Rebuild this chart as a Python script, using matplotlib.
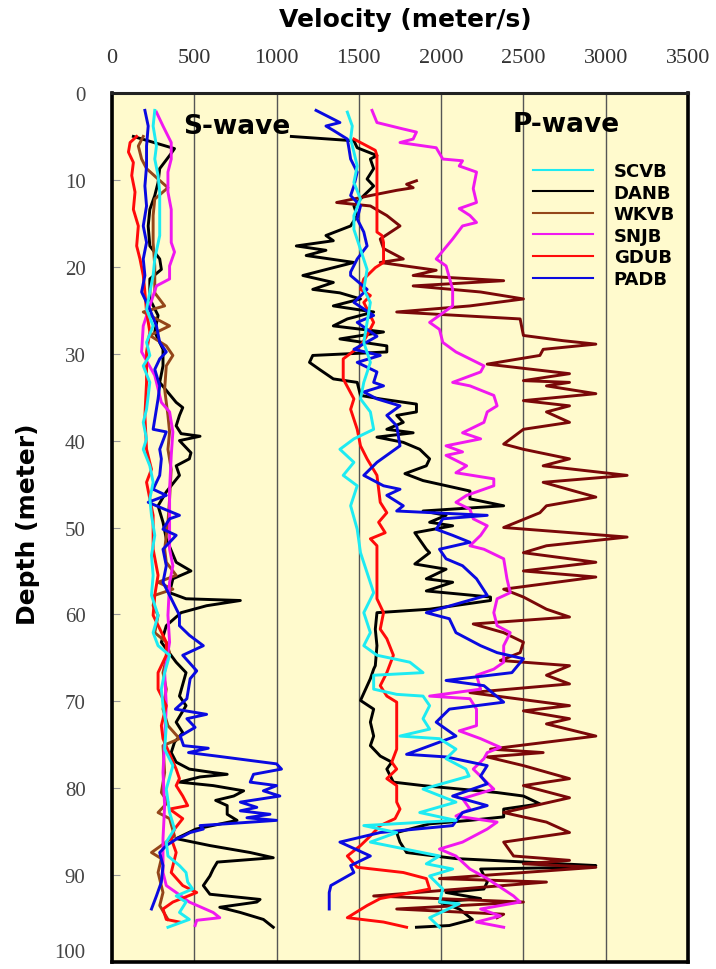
import numpy as np
import matplotlib
matplotlib.use('Agg')
from matplotlib import pyplot as plt

# well names (legend order)
wells = ['SCVB', 'DANB', 'WKVB', 'SNJB', 'GDUB', 'PADB']

# S-wave profiles: (depth m, velocity m/s)
scvb_s = [(2.0, 260), (3.8, 250), (6.1, 270), (7.6, 260), (9.5, 280), (11.4, 290), (14.1, 290), (16.4, 290),
          (19.1, 260), (21.0, 250), (22.9, 230), (24.9, 210), (26.8, 250), (28.7, 210), (30.2, 230), (31.4, 190),
          (33.3, 230), (36.4, 210), (37.9, 190), (39.8, 210), (41.0, 190), (42.9, 230), (44.8, 250), (46.7, 230),
          (48.6, 240), (50.9, 260), (53.2, 240), (55.5, 250), (57.8, 240), (60.1, 280), (62.1, 250), (63.6, 280),
          (64.7, 350), (66.7, 320), (68.6, 300), (70.5, 310), (72.8, 330), (75.5, 320), (77.4, 370), (80.1, 330),
          (82.8, 350), (84.7, 380), (86.2, 330), (87.8, 340), (88.9, 410), (89.7, 450), (90.8, 460), (91.6, 490),
          (92.4, 390), (93.1, 450), (94.3, 410), (95.1, 470), (96.0, 340)]
danb_s = [(5.0, 130), (6.4, 380), (7.2, 350), (8.7, 290), (10.3, 280), (11.8, 260), (13.4, 230), (15.3, 220),
          (17.6, 230), (19.1, 290), (20.3, 300), (21.4, 230), (23.7, 230), (25.6, 280), (27.5, 260), (29.5, 310),
          (31.4, 310), (33.3, 290), (35.6, 390), (36.2, 430), (37.1, 410), (38.3, 390), (39.2, 420), (39.5, 535),
          (40.0, 410), (41.4, 480), (42.1, 470), (42.9, 390), (44.0, 410), (45.9, 330), (47.5, 280), (49.4, 310),
          (51.3, 330), (54.0, 390), (55.0, 480), (55.9, 370), (57.5, 350), (58.2, 450), (58.4, 780), (59.0, 575),
          (59.8, 420), (61.3, 330), (63.2, 300), (65.5, 390), (66.7, 450), (69.4, 410), (70.5, 450), (72.4, 390),
          (73.6, 430), (74.7, 380), (75.9, 360), (77.0, 390), (77.8, 470), (78.2, 615), (78.4, 700), (78.7, 535),
          (79.3, 410), (79.7, 615), (80.3, 800), (80.9, 740), (81.4, 630), (82.0, 700), (83.0, 700), (83.7, 760),
          (84.7, 510), (85.8, 390), (86.6, 595), (87.4, 840), (88.0, 980), (88.5, 640), (89.3, 615), (90.1, 595),
          (91.2, 555), (92.2, 595), (92.8, 900), (93.1, 880), (93.7, 655), (94.3, 780), (95.1, 920), (96.0, 980)]
wkvb_s = [(5.0, 190), (6.1, 160), (7.6, 180), (8.7, 210), (9.9, 280), (10.9, 340), (12.2, 260), (14.1, 250),
          (17.2, 250), (19.9, 260), (23.0, 260), (24.5, 320), (25.2, 190), (26.8, 350), (27.9, 230), (29.1, 330),
          (30.2, 370), (31.4, 330), (34.1, 320), (37.1, 340), (39.0, 350), (41.0, 340), (43.3, 360), (46.7, 350),
          (49.4, 340), (52.5, 320), (54.0, 330), (55.5, 390), (56.3, 280), (57.1, 370), (57.8, 260), (59.0, 250),
          (60.1, 280), (62.1, 260), (63.2, 330), (64.4, 350), (65.1, 330), (66.7, 310), (68.6, 330), (70.9, 310),
          (72.8, 340), (74.3, 410), (75.1, 310), (78.2, 320), (80.5, 300), (81.6, 340), (82.8, 280), (83.5, 350),
          (85.5, 380), (87.4, 240), (88.1, 300), (89.7, 280), (92.0, 310), (93.5, 290), (95.1, 340)]
snjb_s = [(2.2, 270), (3.8, 310), (5.7, 360), (7.6, 360), (9.1, 340), (11.4, 340), (13.4, 360), (17.2, 360),
          (18.3, 380), (19.9, 350), (21.4, 350), (22.2, 270), (24.5, 230), (26.8, 190), (29.8, 180), (32.5, 260),
          (35.6, 300), (36.7, 350), (39.0, 370), (41.7, 360), (45.6, 350), (48.6, 350), (52.5, 350), (54.4, 370),
          (56.3, 350), (60.1, 340), (63.2, 350), (66.7, 320), (70.5, 330), (74.3, 320), (78.2, 310), (82.0, 320),
          (85.8, 310), (89.7, 310), (91.2, 330), (92.0, 390), (93.1, 470), (94.3, 615), (94.9, 655), (95.2, 515),
          (95.8, 505)]
gdub_s = [(5.0, 150), (5.7, 110), (6.8, 100), (8.0, 130), (9.5, 120), (11.4, 140), (13.4, 130), (15.3, 160),
          (17.6, 150), (19.1, 170), (21.0, 190), (22.9, 200), (25.2, 210), (27.5, 230), (29.8, 210), (33.3, 210),
          (37.1, 200), (41.0, 210), (43.3, 240), (44.8, 210), (48.6, 250), (52.5, 250), (55.5, 280), (57.8, 260),
          (60.1, 250), (63.2, 330), (64.7, 330), (66.7, 280), (68.6, 280), (70.5, 330), (72.8, 300), (74.3, 310),
          (77.8, 390), (78.9, 410), (79.7, 390), (80.9, 430), (82.0, 460), (82.4, 350), (83.5, 430), (84.7, 380),
          (85.8, 360), (87.4, 390), (89.7, 360), (91.2, 430), (92.0, 515), (93.1, 370), (93.9, 310), (95.1, 330),
          (95.4, 410)]
padb_s = [(2.0, 200), (3.8, 220), (6.1, 210), (8.4, 210), (10.7, 200), (13.0, 210), (15.3, 190), (17.2, 210),
          (19.1, 190), (21.0, 200), (22.9, 180), (24.9, 230), (26.8, 270), (28.7, 290), (29.8, 330), (30.6, 290),
          (31.8, 260), (33.7, 290), (35.2, 280), (38.7, 250), (39.0, 330), (41.0, 290), (42.1, 300), (44.0, 290),
          (45.6, 250), (46.3, 330), (47.1, 220), (47.9, 320), (48.6, 410), (49.0, 350), (50.2, 310), (50.9, 390),
          (52.5, 310), (54.4, 330), (56.3, 310), (57.8, 350), (60.1, 410), (61.3, 410), (62.4, 470), (63.6, 555),
          (64.7, 430), (66.5, 515), (67.4, 475), (69.7, 455), (70.9, 385), (71.5, 575), (72.0, 455), (73.0, 505),
          (74.0, 415), (75.1, 435), (75.4, 585), (75.9, 465), (76.3, 635), (77.2, 1000), (77.8, 1030), (78.4, 860),
          (79.3, 840), (79.7, 1000), (80.3, 920), (80.9, 1020), (81.6, 780), (82.2, 880), (82.6, 780), (83.0, 960),
          (83.4, 820), (83.7, 1000), (84.3, 535), (84.7, 555), (85.1, 475), (85.5, 435), (85.8, 395), (86.6, 330),
          (87.4, 290), (88.9, 310), (90.8, 300), (92.4, 270), (93.9, 240)]

# P-wave profiles: (depth m, velocity m/s)
scvb_p = [(2.2, 1430), (3.8, 1460), (5.3, 1450), (6.8, 1470), (8.4, 1490), (10.3, 1470), (12.2, 1510), (14.1, 1470),
          (15.7, 1470), (18.0, 1510), (20.3, 1550), (22.6, 1530), (24.1, 1570), (26.4, 1550), (28.7, 1530),
          (31.0, 1570), (33.3, 1530), (35.2, 1510), (36.7, 1570), (38.7, 1590), (39.8, 1470), (41.0, 1385),
          (42.5, 1470), (44.0, 1405), (45.2, 1490), (47.5, 1450), (50.2, 1490), (52.9, 1510), (55.2, 1550),
          (57.5, 1590), (59.8, 1530), (62.1, 1570), (63.6, 1530), (64.7, 1610), (65.5, 1810), (66.7, 1890),
          (67.0, 1590), (68.6, 1590), (69.2, 1730), (69.4, 1890), (70.5, 1930), (72.0, 1890), (73.2, 1930),
          (74.0, 1750), (74.3, 1990), (75.5, 2090), (76.6, 2030), (77.8, 2150), (78.6, 2170), (80.1, 1890),
          (81.6, 2090), (82.8, 1870), (83.7, 2090), (84.3, 1530), (85.1, 1730), (86.2, 1570), (87.8, 1990),
          (88.7, 1910), (89.3, 2070), (90.1, 1930), (91.6, 2010), (93.1, 1990), (93.3, 2110), (94.9, 1930),
          (96.0, 1990)]
danb_p = [(5.0, 1090), (5.5, 1470), (6.3, 1490), (7.2, 1610), (7.6, 1570), (8.7, 1590), (9.9, 1550), (10.7, 1590),
          (11.8, 1530), (13.0, 1470), (14.1, 1490), (15.3, 1450), (16.4, 1300), (17.0, 1345), (17.6, 1120),
          (18.1, 1300), (18.7, 1180), (19.5, 1470), (20.1, 1345), (21.0, 1160), (21.8, 1345), (22.6, 1220),
          (23.0, 1385), (23.7, 1510), (24.5, 1345), (25.2, 1590), (26.0, 1430), (26.8, 1345), (27.5, 1650),
          (28.3, 1385), (29.1, 1670), (29.8, 1670), (30.2, 1220), (31.0, 1200), (31.8, 1260), (32.9, 1345),
          (33.3, 1490), (34.8, 1510), (35.2, 1630), (35.8, 1850), (36.7, 1850), (37.1, 1730), (37.9, 1770),
          (38.7, 1670), (39.1, 1830), (39.6, 1610), (40.2, 1770), (41.0, 1870), (42.1, 1930), (42.9, 1910),
          (43.8, 1780), (44.6, 1890), (45.8, 2175), (46.7, 2175), (47.5, 2380), (48.1, 1890), (48.6, 2030),
          (49.4, 1930), (49.8, 2070), (50.6, 1840), (52.5, 1910), (52.9, 1930), (54.2, 1840), (54.8, 2030),
          (55.9, 1910), (56.3, 2070), (57.3, 1910), (58.0, 2300), (58.4, 2300), (59.4, 1930), (59.8, 1610),
          (61.7, 1600), (63.6, 1610), (65.9, 1600), (66.3, 1590), (67.4, 1570), (69.9, 1510), (70.9, 1590),
          (72.4, 1570), (74.0, 1590), (75.1, 1570), (76.3, 1630), (77.0, 1700), (77.8, 1670), (79.3, 1710),
          (79.7, 1890), (80.5, 2340), (80.9, 2500), (81.8, 2600), (82.4, 2380), (83.3, 2380), (83.7, 2175),
          (84.1, 1930), (85.1, 1730), (86.2, 1750), (87.4, 1790), (88.1, 2090), (88.9, 2940), (89.1, 2820),
          (89.3, 2240), (90.8, 2280), (91.6, 2260), (92.0, 2030), (92.7, 2240), (93.1, 1990), (93.9, 2110),
          (95.1, 2190), (95.8, 2050), (96.0, 1850)]
wkvb_p = [(10.1, 1850), (10.5, 1790), (10.9, 1830), (11.2, 1730), (11.8, 1570), (12.6, 1365), (13.0, 1570),
          (14.1, 1670), (15.3, 1750), (16.8, 1630), (17.9, 1650), (19.1, 1770), (19.5, 1630), (20.4, 1970),
          (21.0, 1830), (21.6, 2380), (22.2, 1830), (22.9, 2240), (23.7, 2500), (24.5, 2175), (25.2, 1730),
          (26.0, 2480), (27.9, 2500), (28.5, 2740), (28.9, 2940), (29.5, 2620), (30.2, 2600), (31.2, 2280),
          (32.3, 2780), (33.1, 2500), (33.3, 2780), (33.7, 2640), (34.6, 2940), (35.4, 2500), (36.0, 2780),
          (36.7, 2640), (37.9, 2780), (38.7, 2500), (40.4, 2380), (41.0, 2500), (42.1, 2780), (42.9, 2620),
          (44.0, 3130), (44.8, 2620), (46.5, 2940), (47.5, 2640), (48.3, 2600), (50.0, 2380), (51.1, 3130),
          (52.1, 2640), (52.9, 2500), (54.0, 2940), (55.0, 2500), (55.7, 2940), (57.1, 2380), (58.0, 2500),
          (59.4, 2640), (60.3, 2780), (61.1, 2195), (62.1, 2380), (63.2, 2500), (64.4, 2480), (65.3, 2360),
          (65.9, 2780), (67.0, 2640), (68.0, 2780), (69.0, 2175), (70.5, 2780), (71.1, 2500), (72.0, 2780),
          (72.6, 2640), (74.0, 2940), (75.5, 2300), (75.9, 2620), (76.4, 2280), (77.4, 2500), (78.9, 2780),
          (79.7, 2500), (81.1, 2780), (82.8, 2380), (83.9, 2640), (85.1, 2780), (86.2, 2380), (87.8, 2440),
          (88.3, 2780), (88.7, 2500), (89.1, 2940), (90.4, 1990), (90.8, 2640), (92.4, 1590), (93.1, 2500),
          (93.9, 1730), (94.5, 2380), (94.9, 2340)]
snjb_p = [(2.0, 1580), (3.4, 1610), (4.1, 1760), (4.5, 1850), (5.3, 1830), (5.7, 1750), (6.3, 1970), (7.6, 2010),
          (7.8, 2130), (8.4, 2110), (9.1, 2215), (11.0, 2195), (12.6, 2215), (13.3, 2110), (14.1, 2175), (14.9, 2215),
          (15.3, 2130), (16.8, 2070), (19.1, 1970), (19.9, 2030), (22.6, 2070), (24.5, 2070), (26.4, 1930),
          (27.2, 1990), (28.7, 2010), (29.8, 2090), (31.4, 2260), (32.1, 2240), (33.3, 2070), (33.7, 2175),
          (34.8, 2320), (36.0, 2340), (36.7, 2280), (37.9, 2260), (39.1, 2130), (39.8, 2240), (40.6, 2030),
          (41.3, 2130), (41.7, 2030), (42.9, 2155), (43.7, 2090), (44.4, 2320), (45.2, 2320), (46.3, 2155),
          (47.1, 2090), (47.9, 2175), (49.0, 2195), (49.8, 2280), (50.9, 2240), (52.1, 2175), (52.5, 2260),
          (53.6, 2380), (55.9, 2400), (57.5, 2420), (58.2, 2340), (59.8, 2320), (61.3, 2340), (62.1, 2420),
          (63.6, 2380), (65.5, 2380), (66.3, 2320), (67.0, 2215), (68.6, 2240), (69.4, 1930), (69.7, 2175),
          (70.9, 2215), (72.8, 2215), (73.4, 2110), (74.3, 2240), (75.3, 2360), (75.9, 2280), (76.6, 2260),
          (77.8, 2195), (80.1, 2320), (81.2, 2130), (82.4, 2175), (83.2, 2090), (83.9, 2340), (84.7, 2280),
          (86.2, 2130), (87.0, 1990), (87.8, 2090), (89.3, 2175), (90.4, 2280), (92.4, 2440), (93.1, 2480),
          (93.9, 2240), (94.7, 2360), (95.4, 2215), (96.0, 2380)]
gdub_p = [(5.3, 1470), (6.3, 1570), (6.6, 1600), (7.2, 1610), (16.0, 1610), (16.4, 1640), (17.2, 1650), (19.5, 1650),
          (20.1, 1600), (21.4, 1530), (22.6, 1510), (23.3, 1570), (24.1, 1530), (26.4, 1590), (27.9, 1550),
          (29.1, 1510), (30.6, 1405), (32.9, 1405), (35.2, 1470), (36.4, 1450), (38.7, 1490), (40.6, 1510),
          (42.1, 1550), (44.0, 1610), (47.1, 1630), (48.3, 1670), (49.4, 1620), (50.6, 1660), (51.3, 1570),
          (52.1, 1610), (58.2, 1610), (59.8, 1650), (61.7, 1630), (62.8, 1670), (64.7, 1710), (66.7, 1670),
          (68.2, 1630), (69.4, 1670), (70.1, 1730), (75.5, 1730), (77.0, 1700), (77.8, 1730), (78.9, 1670),
          (79.7, 1730), (81.6, 1730), (82.4, 1750), (83.5, 1720), (84.3, 1630), (85.5, 1570), (86.6, 1510),
          (87.8, 1430), (89.1, 1490), (89.7, 1770), (90.4, 1910), (91.6, 1930), (92.7, 1630), (93.5, 1550),
          (94.9, 1430), (95.4, 1650), (96.0, 1790)]
padb_p = [(2.0, 1240), (3.4, 1385), (3.8, 1300), (4.3, 1345), (5.3, 1430), (6.4, 1440), (7.6, 1450), (9.1, 1490),
          (10.7, 1470), (11.8, 1450), (13.0, 1510), (14.5, 1490), (16.0, 1530), (17.6, 1550), (19.1, 1490),
          (20.6, 1450), (21.0, 1450), (22.6, 1550), (24.1, 1470), (25.6, 1590), (26.4, 1490), (28.0, 1610),
          (29.5, 1470), (30.2, 1630), (31.0, 1490), (32.1, 1610), (33.3, 1590), (33.7, 1650), (34.4, 1530),
          (35.2, 1610), (36.0, 1750), (37.1, 1670), (38.3, 1730), (40.6, 1750), (42.5, 1610), (44.0, 1530),
          (45.2, 1650), (45.6, 1750), (46.3, 1670), (47.5, 1770), (48.1, 1730), (48.6, 2280), (49.0, 2010),
          (50.2, 1970), (50.9, 2070), (51.7, 2175), (52.5, 1990), (53.6, 2030), (54.4, 2130), (55.9, 2215),
          (57.8, 2280), (58.6, 2130), (59.8, 1910), (60.5, 2050), (62.1, 2090), (63.6, 2240), (64.4, 2340),
          (65.1, 2500), (66.7, 2430), (67.6, 2030), (68.2, 2260), (70.1, 2380), (70.9, 2050), (72.4, 1970),
          (74.0, 2090), (76.1, 1790), (76.4, 2030), (77.4, 2280), (78.6, 2240), (79.5, 2280), (80.9, 2070),
          (82.0, 2280), (82.8, 2130), (84.3, 2070), (85.1, 1630), (86.2, 1385), (87.8, 1570), (88.9, 1450),
          (89.7, 1470), (91.2, 1330), (92.0, 1320), (93.9, 1320)]

s_wave = [scvb_s, danb_s, wkvb_s, snjb_s, gdub_s, padb_s]
p_wave = [scvb_p, danb_p, wkvb_p, snjb_p, gdub_p, padb_p]

s_colors = ['#1EEBF2', '#000000', '#94461A', '#F018F0', '#FF0A0A', '#0A0AE0']
p_colors = ['#1EEBF2', '#000000', '#7A0808', '#F018F0', '#FF0A0A', '#0A0AE0']
draw_order = [1, 2, 3, 4, 5, 0]   # cyan on top

fig = plt.figure(figsize=(7.16, 9.70), dpi=100)
ax = fig.add_axes([0.1564, 0.0072, 0.8045, 0.8959])
ax.set_facecolor('#FFFACD')

handles = {}
for i in draw_order:
    d, v = np.array(s_wave[i]).T
    line, = ax.plot(v, d, color=s_colors[i], lw=2.1, label=wells[i])
    handles[i] = line
    d, v = np.array(p_wave[i]).T
    ax.plot(v, d, color=p_colors[i], lw=2.1)

ax.set_xlim(0, 3500)
ax.set_ylim(100, 0)
ax.xaxis.tick_top()
ax.set_xticks(range(0, 3501, 500))
ax.set_yticks(range(0, 101, 10))
ax.grid(axis='x', color='#555555', lw=1.0)
ax.set_axisbelow(True)
ax.tick_params(axis='x', length=0, pad=19, labelsize=16, labelcolor='#333333')
ax.tick_params(axis='y', direction='in', length=6, color='#999999', pad=19, labelsize=15, labelcolor='#444444')
for lab in ax.get_xticklabels() + ax.get_yticklabels():
    lab.set_fontfamily('Liberation Serif')
# keep the cut "100" label inside the picture
ax.get_yticklabels()[-1].set_verticalalignment('bottom')

for side in ['left', 'right', 'bottom']:
    ax.spines[side].set_linewidth(2.6)
    ax.spines[side].set_color('black')
ax.spines['top'].set_linewidth(2.2)
ax.spines['top'].set_color('#222222')

ax.text(760, 3.8, 'S-wave', ha='center', va='center', fontsize=19, fontweight='bold',
        family='DejaVu Sans')
ax.text(2760, 3.6, 'P-wave', ha='center', va='center', fontsize=19, fontweight='bold',
        family='DejaVu Sans')

leg = ax.legend([handles[i] for i in range(6)], wells, loc='upper left', bbox_to_anchor=(0.715, 0.931),
                frameon=False, borderpad=0, handlelength=3.33, handletextpad=1.15, labelspacing=0.2,
                prop={'family': 'DejaVu Sans', 'weight': 'bold', 'size': 13})
for h in leg.get_lines():
    h.set_linewidth(1.5)

fig.text(0.566, 0.972, 'Velocity (meter/s)', ha='center', va='baseline', fontsize=18, fontweight='bold',
         family='DejaVu Sans')
fig.text(0.039, 0.46, 'Depth (meter)', ha='center', va='center', rotation=90, fontsize=18,
         fontweight='bold', family='DejaVu Sans')

fig.savefig('out.png', dpi=100)
